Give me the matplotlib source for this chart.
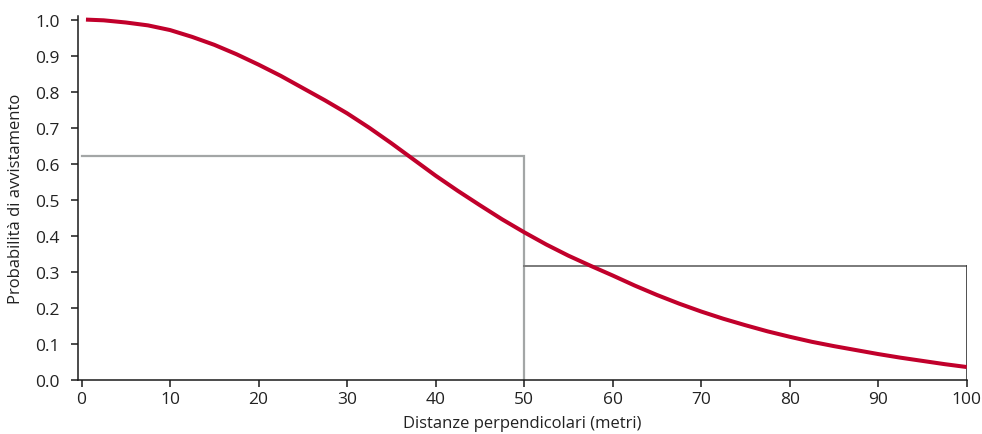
import matplotlib
matplotlib.use("Agg")
import matplotlib.pyplot as plt

plt.rcParams['font.family'] = ['Open Sans', 'DejaVu Sans']

# data
curve_x = [0.5, 2.5, 5, 7.5, 10, 12.5, 15, 17.5, 20, 22.5, 25, 27.5, 30, 32.5, 35, 37.5,
           40, 42.5, 45, 47.5, 50, 52.5, 55, 57.5, 60, 62.5, 65, 67.5, 70, 72.5, 75,
           77.5, 80, 82.5, 85, 87.5, 90, 92.5, 95, 97.5, 100]
curve_y = [1.0, 0.998, 0.992, 0.984, 0.971, 0.952, 0.93, 0.904, 0.875, 0.844, 0.81,
           0.776, 0.74, 0.70, 0.657, 0.612, 0.567, 0.525, 0.485, 0.446, 0.41,
           0.376, 0.345, 0.317, 0.29, 0.262, 0.236, 0.212, 0.19, 0.17, 0.152,
           0.135, 0.12, 0.106, 0.094, 0.083, 0.072, 0.062, 0.053, 0.044, 0.036]
bin_edges = [0, 50, 100]
bin_heights = [0.622, 0.315]
xticks = [0, 10, 20, 30, 40, 50, 60, 70, 80, 90, 100]
yticks = [0.0, 0.1, 0.2, 0.3, 0.4, 0.5, 0.6, 0.7, 0.8, 0.9, 1.0]

fig = plt.figure(figsize=(9.82, 4.35), dpi=100)
ax = fig.add_axes([78/982, 1-381/435, (966.7-78)/982, (381-17)/435])

# histogram bars (outline only)
l0, r0 = bin_edges[0], bin_edges[1]
ax.plot([l0, r0, r0], [bin_heights[0], bin_heights[0], 0], color='#a3a6a6', lw=1.6,
        solid_joinstyle='miter', zorder=2)
l1, r1 = bin_edges[1], bin_edges[2]
ax.plot([l1, r1], [bin_heights[1], bin_heights[1]], color='#7a7a7a', lw=1.4, zorder=2)
ax.plot([r1, r1], [bin_heights[1], 0], color='#333333', lw=1.2, zorder=2)

# detection curve
ax.plot(curve_x, curve_y, color='#c1002b', lw=2.9, solid_capstyle='butt',
        solid_joinstyle='round', zorder=3)

ax.set_xlim(-0.4, 100)
ax.set_ylim(0, 1.01)
ax.set_xticks(xticks)
ax.set_xticklabels([str(v) for v in xticks])
ax.set_yticks(yticks)
ax.set_yticklabels([f"{v:.1f}" for v in yticks])

for s in ['top', 'right']:
    ax.spines[s].set_visible(False)
for s in ['left', 'bottom']:
    ax.spines[s].set_color('#1a1a1a')
    ax.spines[s].set_linewidth(1.1)

ax.tick_params(axis='both', direction='out', length=5, width=1.1, color='#1a1a1a',
               labelsize=12.5, labelcolor='#222222', pad=3)
ax.tick_params(axis='y', pad=8)

ax.set_xlabel('Distanze perpendicolari (metri)', fontsize=12, color='#222222', labelpad=6)
ax.set_ylabel('Probabilità di avvistamento', fontsize=12, color='#222222', labelpad=8)

fig.savefig('out.png', dpi=100)
